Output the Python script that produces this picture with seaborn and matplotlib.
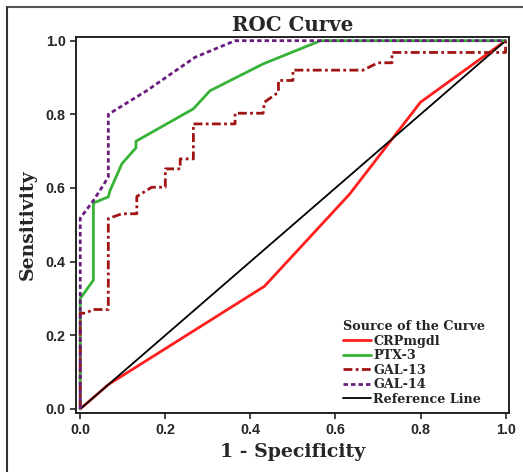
import matplotlib
matplotlib.use("Agg")
import matplotlib.pyplot as plt
import seaborn as sns
from matplotlib.lines import Line2D

# ROC points (1 - specificity, sensitivity)
crp_x = [0, 0.067, 0.433, 0.633, 0.8, 1.0]
crp_y = [0, 0.067, 0.333, 0.583, 0.833, 1.0]

ptx_x = [0, 0, 0.031, 0.031, 0.066, 0.070, 0.098, 0.131, 0.131, 0.266, 0.305, 0.43, 0.565, 1.0]
ptx_y = [0, 0.30, 0.35, 0.559, 0.576, 0.593, 0.666, 0.709, 0.727, 0.815, 0.864, 0.937, 1.0, 1.0]

gal13_x = [0, 0, 0.013, 0.03, 0.066, 0.066, 0.098, 0.133, 0.133, 0.168, 0.2, 0.2, 0.235, 0.235,
           0.266, 0.266, 0.364, 0.364, 0.43, 0.433, 0.466, 0.466, 0.5, 0.5, 0.665, 0.70, 0.733,
           0.733, 1.0, 1.0]
gal13_y = [0, 0.26, 0.26, 0.27, 0.27, 0.517, 0.53, 0.53, 0.577, 0.602, 0.602, 0.652, 0.652, 0.679,
           0.679, 0.774, 0.774, 0.803, 0.803, 0.833, 0.86, 0.892, 0.892, 0.92, 0.92, 0.94, 0.94,
           0.968, 0.968, 1.0]

gal14_x = [0, 0, 0.031, 0.05, 0.066, 0.066, 0.156, 0.27, 0.364, 1.0]
gal14_y = [0, 0.518, 0.566, 0.6, 0.63, 0.80, 0.864, 0.955, 1.0, 1.0]

ref_x = [0, 1]
ref_y = [0, 1]

ticks = [0.0, 0.2, 0.4, 0.6, 0.8, 1.0]

sns.set_style("ticks")
serif = {"family": "DejaVu Serif", "weight": "bold"}

fig = plt.figure(figsize=(5.23, 4.72), dpi=100)
ax = fig.add_axes([0.1453, 0.125, 0.8279, 0.7966])

# estimator=None so that repeated x values (vertical steps) are drawn as they are
common = dict(sort=False, estimator=None, errorbar=None, ax=ax)
sns.lineplot(x=crp_x, y=crp_y, color="#ff1f1f", lw=2.0, label="CRPmgdl", zorder=3, **common)
sns.lineplot(x=ptx_x, y=ptx_y, color="#36b336", lw=2.0, label="PTX-3", zorder=4, **common)
sns.lineplot(x=gal13_x, y=gal13_y, color="#a01414", lw=2.0,
             linestyle=(0, (3.2, 1.2, 1.0, 1.2)), label="GAL-13", zorder=4, **common)
sns.lineplot(x=gal14_x, y=gal14_y, color="#6a1d7e", lw=2.0,
             linestyle=(0, (1.6, 1.1)), label="GAL-14", zorder=5, **common)
sns.lineplot(x=ref_x, y=ref_y, color="black", lw=1.3, label="Reference Line", zorder=3, **common)

ax.set_xlim(-0.01, 1.008)
ax.set_ylim(-0.011, 1.01)
ax.set_xticks(ticks)
ax.set_yticks(ticks)
ax.set_xticklabels([f"{t:.1f}" for t in ticks], fontfamily="Liberation Sans", fontweight="bold", fontsize=10.3)
ax.set_yticklabels([f"{t:.1f}" for t in ticks], fontfamily="Liberation Sans", fontweight="bold", fontsize=10.3)
ax.tick_params(direction="out", length=4, width=1.2, pad=3.5, color="#222222")
for sp in ax.spines.values():
    sp.set_linewidth(1.4)
    sp.set_color("#222222")

ax.set_title("ROC Curve", fontsize=14.3, pad=4, **serif)
ax.set_xlabel("1 - Specificity", fontsize=13.6, labelpad=4, **serif)
ax.set_ylabel("Sensitivity", fontsize=13.6, labelpad=6, **serif)

leg = ax.legend(loc="lower left", bbox_to_anchor=(0.6, 0.0), frameon=False,
                title="Source of the Curve", prop={"family": "DejaVu Serif", "weight": "bold", "size": 9.2},
                title_fontproperties={"family": "DejaVu Serif", "weight": "bold", "size": 9.2},
                handlelength=2.2, handletextpad=0.2, labelspacing=0.12, borderaxespad=0.15)
leg._legend_box.align = "left"

# outer border of the figure panel
fig.add_artist(Line2D([7 / 523, 1.0], [1 - 7 / 472, 1 - 7 / 472], transform=fig.transFigure, color="#555555", lw=1.5))
fig.add_artist(Line2D([7 / 523, 7 / 523], [0.0, 1 - 7 / 472], transform=fig.transFigure, color="#333333", lw=1.5))

fig.savefig("out.png", dpi=100)
